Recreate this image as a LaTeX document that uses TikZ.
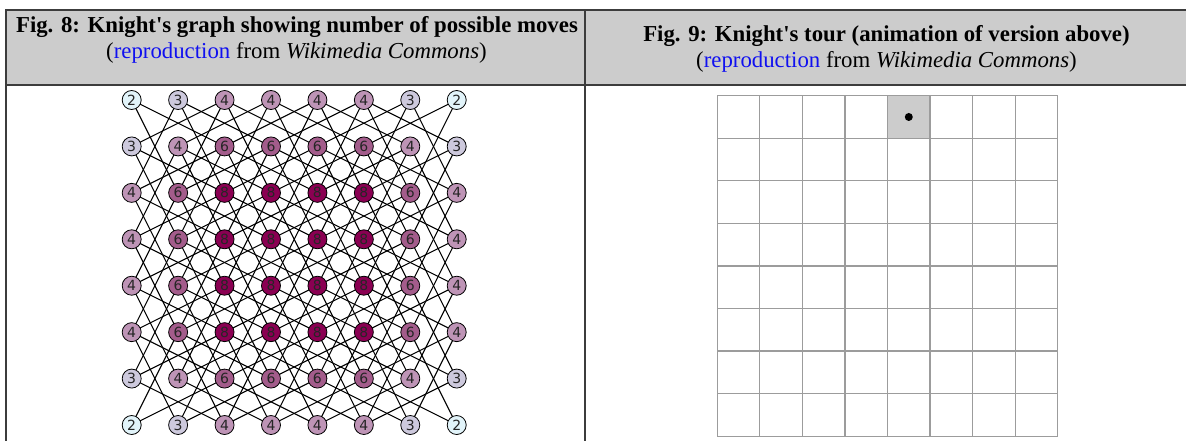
\documentclass[tikz,border=0pt]{standalone}
\usepackage{fontspec}
\setmainfont{Liberation Serif}
\newfontfamily\nodefont{DejaVu Sans}
\usetikzlibrary{backgrounds}
\definecolor{hdr}{HTML}{CCCCCC}
\definecolor{tblline}{HTML}{3C3C3C}
\definecolor{gridc}{HTML}{9C9C9C}
\definecolor{linkc}{HTML}{1010F0}
\definecolor{c2}{HTML}{E2F4FA}
\definecolor{c3}{HTML}{CDC9DD}
\definecolor{c4}{HTML}{BE94B6}
\definecolor{c6}{HTML}{A35C8B}
\definecolor{c8}{HTML}{8A0052}
\tikzset{
  tbl/.style={draw=tblline, line width=1.6},
  ttl/.style={font=\fontsize{22.8}{25}\selectfont\bfseries, inner sep=0, anchor=base},
  sub/.style={font=\fontsize{22.8}{25}\selectfont, inner sep=0, anchor=base},
  knode/.style={circle, draw=black, line width=0.8, minimum size=19, inner sep=0,
    font=\nodefont\fontsize{14}{14}\selectfont, text=black!85},
  kedge/.style={draw=black, line width=1.05},
  gridline/.style={draw=gridc, line width=1.2},
}
\begin{document}
\begin{tikzpicture}[x=1pt,y=-1pt]
\useasboundingbox (0,0) rectangle (1186,441);
% table
\fill[hdr] (6,10) rectangle (1186,85);
\draw[tbl] (6,441) -- (6,10) -- (1186,10);
\draw[tbl] (6,85) -- (1186,85);
\draw[tbl] (585,10) -- (585,441);
% headers
\node[ttl] (h8) at (297,33) {Fig. 8: Knight\textquotesingle s graph showing number of possible moves};
\node[sub] (s8) at (296.5,58.5) {(\textcolor{linkc}{reproduction} from \textit{Wikimedia Commons})};
\node[ttl] (h9) at (886.5,42) {Fig. 9: Knight\textquotesingle s tour (animation of version above)};
\node[sub] (s9) at (886.5,67.5) {(\textcolor{linkc}{reproduction} from \textit{Wikimedia Commons})};
% knight's graph nodes
\foreach \row [count=\j] in {{2,3,4,4,4,4,3,2},{3,4,6,6,6,6,4,3},{4,6,8,8,8,8,6,4},{4,6,8,8,8,8,6,4},
  {4,6,8,8,8,8,6,4},{4,6,8,8,8,8,6,4},{3,4,6,6,6,6,4,3},{2,3,4,4,4,4,3,2}}{
  \foreach \v [count=\i] in \row {
    \node[knode, fill=c\v] (n-\i-\j) at ({131.7+46.43*(\i-1)},{100+46.43*(\j-1)}) {\v};
  }
}
\begin{pgfonlayer}{background}
\foreach \i in {1,...,8}{
  \foreach \j in {1,...,8}{
    \foreach \di/\dj in {1/2,2/1,2/-1,1/-2}{
      \pgfmathtruncatemacro\ii{\i+\di}
      \pgfmathtruncatemacro\jj{\j+\dj}
      \ifnum\ii<9 \ifnum\jj>0 \ifnum\jj<9
        \draw[kedge] (n-\i-\j.center) -- (n-\ii-\jj.center);
      \fi\fi\fi
    }
  }
}
\end{pgfonlayer}
% board
\fill[hdr] (717.3+4*42.55,95.7) rectangle ++(42.55,42.55);
\foreach \k in {0,...,8}{
  \draw[gridline] (717.3+\k*42.55,95.7) -- (717.3+\k*42.55,436.1);
  \draw[gridline] (717.3,95.7+\k*42.55) -- (1057.7,95.7+\k*42.55);
}
\node[circle, fill=black, minimum size=8, inner sep=0] (knight) at (717.3+4.5*42.55,95.7+0.5*42.55) {};
\end{tikzpicture}
\end{document}
